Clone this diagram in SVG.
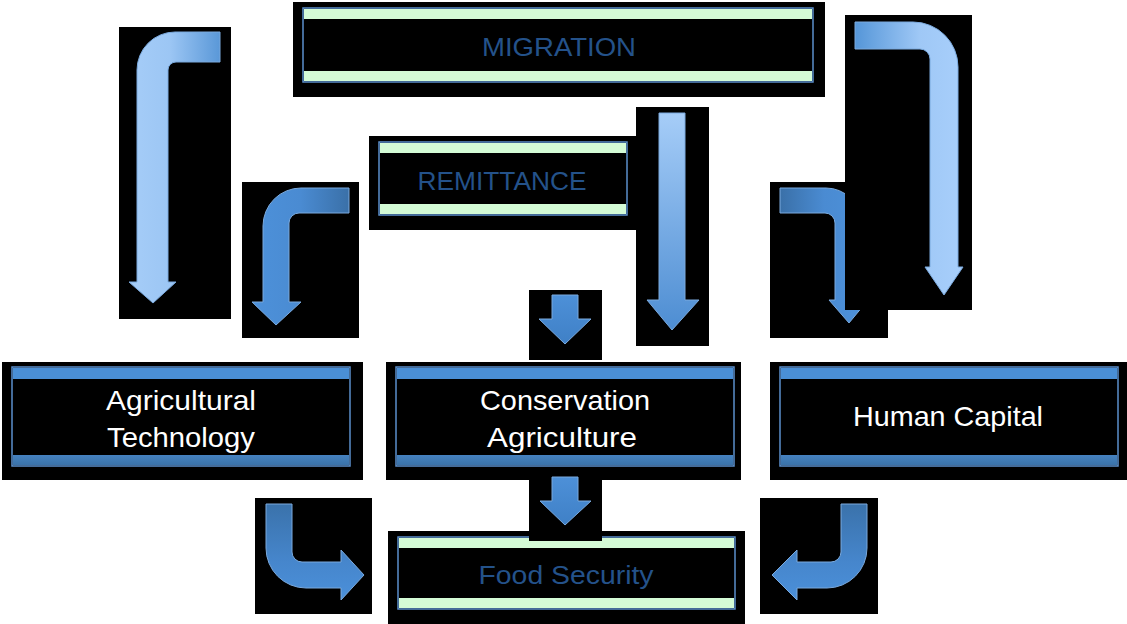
<svg xmlns="http://www.w3.org/2000/svg" width="1127" height="624" viewBox="0 0 1127 624">
  <defs>
    <style>
      .back { fill: #000000; }
      .frame { fill: #000000; stroke: #5b8fcb; stroke-width: 1.5; }
      .mint { fill: #d4fbd6; }
      .bandTop { fill: #4a8fd6; }
      .bandBot { fill: url(#bandDark); }
      .title { font-family: "Liberation Sans", Arial, sans-serif; font-size: 26px; fill: #24528a; text-anchor: middle; }
      .label { font-family: "Liberation Sans", Arial, sans-serif; font-size: 28px; fill: #ffffff; text-anchor: middle; }
      .arrow { stroke: #7aa9dd; stroke-width: 1; stroke-linejoin: round; }
    </style>
    <linearGradient id="bandDark" x1="0" y1="0" x2="0" y2="1">
      <stop offset="0" stop-color="#4682c0"/>
      <stop offset="1" stop-color="#3a72a8"/>
    </linearGradient>
    <!-- pale arrows, bar fading to darker blue at its free end -->
    <linearGradient id="paleToRight" x1="0" y1="0" x2="1" y2="0">
      <stop offset="0" stop-color="#a6cdf8"/>
      <stop offset="0.45" stop-color="#9cc6f4"/>
      <stop offset="1" stop-color="#5a98d8"/>
    </linearGradient>
    <linearGradient id="paleToLeft" x1="1" y1="0" x2="0" y2="0">
      <stop offset="0" stop-color="#a8cffb"/>
      <stop offset="0.4" stop-color="#9fc8f6"/>
      <stop offset="1" stop-color="#5596d8"/>
    </linearGradient>
    <linearGradient id="paleDown" x1="0" y1="0" x2="0" y2="1">
      <stop offset="0" stop-color="#a6cdf8"/>
      <stop offset="1" stop-color="#4d8dd2"/>
    </linearGradient>
    <!-- mid-blue arrows -->
    <linearGradient id="midToRight" x1="0" y1="0" x2="1" y2="0">
      <stop offset="0" stop-color="#4d91da"/>
      <stop offset="0.5" stop-color="#4a8bd2"/>
      <stop offset="1" stop-color="#3a70a8"/>
    </linearGradient>
    <linearGradient id="midToLeft" x1="1" y1="0" x2="0" y2="0">
      <stop offset="0" stop-color="#4d91da"/>
      <stop offset="0.5" stop-color="#4a8bd2"/>
      <stop offset="1" stop-color="#3a70a8"/>
    </linearGradient>
    <linearGradient id="midDown" x1="0" y1="0" x2="0" y2="1">
      <stop offset="0" stop-color="#4d90d8"/>
      <stop offset="1" stop-color="#3f80c6"/>
    </linearGradient>
    <linearGradient id="darkDown" x1="0" y1="0" x2="0" y2="1">
      <stop offset="0" stop-color="#3a72ab"/>
      <stop offset="0.6" stop-color="#4686cc"/>
      <stop offset="1" stop-color="#4b90da"/>
    </linearGradient>
  </defs>

  <rect x="0" y="0" width="1127" height="624" fill="#ffffff"/>

  <!-- Nodes -->
  <g id="migration">
    <rect class="back" x="293" y="2" width="532" height="95"/>
    <rect class="frame" x="303" y="8" width="510" height="74"/>
    <rect class="mint" x="304" y="9" width="508" height="10"/>
    <rect class="mint" x="304" y="71" width="508" height="10"/>
    <text class="title" x="559" y="56" textLength="154" lengthAdjust="spacingAndGlyphs">MIGRATION</text>
  </g>

  <g id="remittance">
    <rect class="back" x="369" y="136" width="268" height="94"/>
    <rect class="frame" x="379" y="142" width="248" height="73"/>
    <rect class="mint" x="380" y="143" width="246" height="10"/>
    <rect class="mint" x="380" y="204" width="246" height="10"/>
    <text class="title" x="502" y="190" textLength="169" lengthAdjust="spacingAndGlyphs">REMITTANCE</text>
  </g>

  <g id="agricultural-technology">
    <rect class="back" x="2" y="362" width="361" height="118"/>
    <rect class="frame" x="12" y="367" width="338" height="99"/>
    <rect class="bandTop" x="13" y="368" width="336" height="11"/>
    <rect class="bandBot" x="13" y="455" width="336" height="10"/>
    <text class="label" x="181" y="410" textLength="150" lengthAdjust="spacingAndGlyphs">Agricultural</text>
    <text class="label" x="181" y="447" textLength="148" lengthAdjust="spacingAndGlyphs">Technology</text>
  </g>

  <g id="conservation-agriculture">
    <rect class="back" x="386" y="362" width="355" height="118"/>
    <rect class="frame" x="396" y="367" width="338" height="99"/>
    <rect class="bandTop" x="397" y="368" width="336" height="11"/>
    <rect class="bandBot" x="397" y="455" width="336" height="10"/>
    <text class="label" x="565" y="410" textLength="170" lengthAdjust="spacingAndGlyphs">Conservation</text>
    <text class="label" x="562" y="447" textLength="150" lengthAdjust="spacingAndGlyphs">Agriculture</text>
  </g>

  <g id="human-capital">
    <rect class="back" x="770" y="362" width="357" height="118"/>
    <rect class="frame" x="780" y="367" width="338" height="99"/>
    <rect class="bandTop" x="781" y="368" width="336" height="11"/>
    <rect class="bandBot" x="781" y="455" width="336" height="10"/>
    <text class="label" x="948" y="426" textLength="190" lengthAdjust="spacingAndGlyphs">Human Capital</text>
  </g>

  <g id="food-security">
    <rect class="back" x="388" y="531" width="357" height="93"/>
    <rect class="frame" x="398" y="537" width="337" height="72"/>
    <rect class="mint" x="399" y="538" width="335" height="10"/>
    <rect class="mint" x="399" y="598" width="335" height="10"/>
    <text class="title" x="566" y="584" textLength="175" lengthAdjust="spacingAndGlyphs">Food Security</text>
  </g>

  <!-- Connectors: each arrow sits on its own black backing -->
  <g id="connectors">
    <!-- migration -> agricultural technology -->
    <rect class="back" x="119" y="27" width="112" height="292"/>
    <path class="arrow" fill="url(#paleToRight)" d="M220,32 L175,32 A38,38 0 0 0 137,70 L137,282 L129,282 L153,303 L176,282 L168,282 L168,70 A8,8 0 0 1 176,62 L220,62 Z"/>

    <!-- remittance -> agricultural technology -->
    <rect class="back" x="242" y="182" width="117" height="156"/>
    <path class="arrow" fill="url(#midToRight)" d="M349,188 L301,188 A38,38 0 0 0 263,226 L263,302 L252,302 L276,325 L301,302 L289,302 L289,223 A10,10 0 0 1 299,213 L349,213 Z"/>

    <!-- remittance -> human capital -->
    <rect class="back" x="770" y="182" width="118" height="156"/>
    <path class="arrow" fill="url(#midToLeft)" d="M780,188 L826,188 A35,35 0 0 1 861,223 L861,300 L868,300 L849,323 L829,300 L835,300 L835,223 A10,10 0 0 0 825,213 L780,213 Z"/>

    <!-- migration -> human capital -->
    <rect class="back" x="845" y="15" width="127" height="295"/>
    <path class="arrow" fill="url(#paleToLeft)" d="M855,22 L913,22 A45,45 0 0 1 958,67 L958,267 L963,267 L944,295 L925,267 L930,267 L930,59 A10,10 0 0 0 920,49 L855,49 Z"/>

    <!-- migration -> conservation agriculture -->
    <rect class="back" x="636" y="107" width="73" height="239"/>
    <path class="arrow" fill="url(#paleDown)" d="M659,113 L685,113 L685,300 L699,300 L672,330 L647,300 L659,300 Z"/>

    <!-- remittance -> conservation agriculture -->
    <rect class="back" x="529" y="290" width="73" height="70"/>
    <path class="arrow" fill="url(#midDown)" d="M552,295 L578,295 L578,319 L591,319 L565,344 L539,319 L552,319 Z"/>

    <!-- conservation agriculture -> food security -->
    <rect class="back" x="529" y="476" width="73" height="65"/>
    <path class="arrow" fill="url(#midDown)" d="M552,477 L578,477 L578,501 L591,501 L565,525 L540,501 L552,501 Z"/>

    <!-- agricultural technology -> food security -->
    <rect class="back" x="255" y="498" width="117" height="116"/>
    <path class="arrow" fill="url(#darkDown)" d="M266,504 L292,504 L292,552 A10,10 0 0 0 302,562 L341,562 L341,550 L364,575 L341,600 L341,588 L306,588 A40,40 0 0 1 266,548 Z"/>

    <!-- human capital -> food security -->
    <rect class="back" x="760" y="498" width="118" height="116"/>
    <path class="arrow" fill="url(#darkDown)" d="M867,504 L841,504 L841,552 A10,10 0 0 1 831,562 L797,562 L797,550 L772,575 L797,600 L797,588 L827,588 A40,40 0 0 0 867,548 Z"/>
  </g>
</svg>
